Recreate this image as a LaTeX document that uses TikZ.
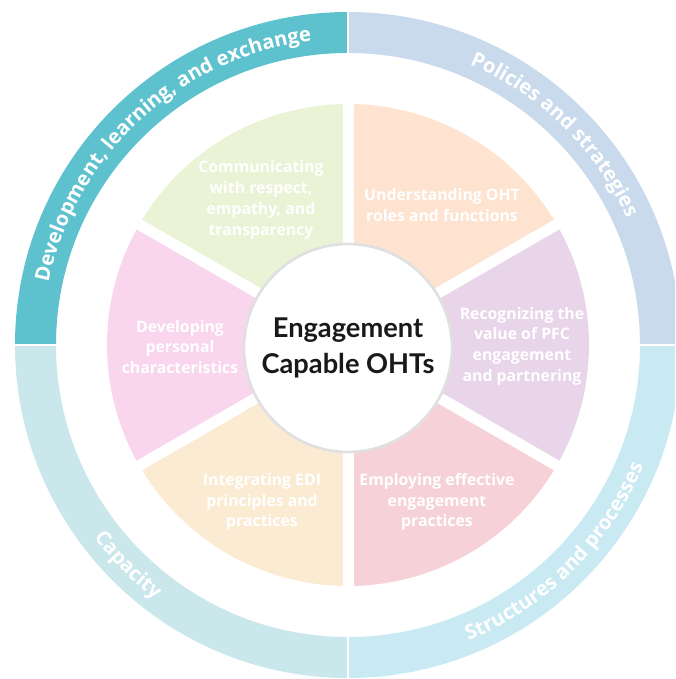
\documentclass[tikz,border=0pt]{standalone}
\usepackage{fontspec}
\usetikzlibrary{decorations.text}
\newfontfamily\ringfont{Open Sans}
\newfontfamily\hubfont{Lato}

\definecolor{ringdev}{HTML}{5DC2CE}
\definecolor{ringpol}{HTML}{C8DAEC}
\definecolor{ringcap}{HTML}{CAE7EB}
\definecolor{ringstr}{HTML}{CAEAF3}
\definecolor{wgreen}{HTML}{EBF3D6}
\definecolor{worange}{HTML}{FDE3D0}
\definecolor{wpurple}{HTML}{E8D5E9}
\definecolor{wred}{HTML}{F6D1D7}
\definecolor{wyellow}{HTML}{FCEBD3}
\definecolor{wpink}{HTML}{F9D5EE}

\newcommand{\ringtext}{\fontsize{11.5}{13}\selectfont\ringfont\bfseries\color{white}}

\tikzstyle{wedgetext} = [align=center, text=white, font=\ringfont\bfseries\fontsize{9}{11.8}\selectfont]
\tikzstyle{hub} = [circle, minimum size=4.16cm, fill=white, draw=black!12, line width=1.5pt]
\tikzstyle{hubtext} = [align=center, text=black!90, font=\hubfont\bfseries\fontsize{15.5}{20}\selectfont]
\tikzstyle{gap} = [white, line width=0.22cm]
\tikzstyle{ringgap} = [white, line width=0.04cm]

\begin{document}
\begin{tikzpicture}
\clip (-6.96,-6.68) rectangle (6.54,6.9);
\useasboundingbox (-6.96,-6.68) rectangle (6.54,6.9);

% outer ring
\fill[ringdev] (90:6.66) arc[start angle=90, end angle=180, radius=6.66] -- (180:5.84) arc[start angle=180, end angle=90, radius=5.84] -- cycle;
\fill[ringpol] (0:6.66) arc[start angle=0, end angle=90, radius=6.66] -- (90:5.84) arc[start angle=90, end angle=0, radius=5.84] -- cycle;
\fill[ringcap] (180:6.66) arc[start angle=180, end angle=270, radius=6.66] -- (270:5.84) arc[start angle=270, end angle=180, radius=5.84] -- cycle;
\fill[ringstr] (270:6.66) arc[start angle=270, end angle=360, radius=6.66] -- (0:5.84) arc[start angle=0, end angle=-90, radius=5.84] -- cycle;
\draw[ringgap] (0:5.8) -- (0:6.7);
\draw[ringgap] (90:5.8) -- (90:6.7);
\draw[ringgap] (180:5.8) -- (180:6.7);
\draw[ringgap] (270:5.8) -- (270:6.7);

% ring labels
\path[decorate, decoration={text along path, text align=center, text={|\ringtext|Development, learning, and exchange}}]
  (185:6.12) arc[start angle=185, end angle=80, radius=6.12];
\path[decorate, decoration={text along path, text align=center, text={|\ringtext|Policies and strategies}}]
  (86:6.12) arc[start angle=86, end angle=5, radius=6.12];
\path[decorate, decoration={text along path, text align=center, text={|\ringtext|Capacity}}]
  (190:6.38) arc[start angle=190, end angle=260, radius=6.38];
\path[decorate, decoration={text along path, text align=center, text={|\ringtext|Structures and processes}}]
  (270:6.38) arc[start angle=270, end angle=360, radius=6.38];

% wedges
\fill[wgreen] (0,0) -- (90:4.82) arc[start angle=90, end angle=150, radius=4.82] -- cycle;
\fill[worange] (0,0) -- (30:4.82) arc[start angle=30, end angle=90, radius=4.82] -- cycle;
\fill[wpurple] (0,0) -- (-30:4.82) arc[start angle=-30, end angle=30, radius=4.82] -- cycle;
\fill[wred] (0,0) -- (-90:4.82) arc[start angle=-90, end angle=-30, radius=4.82] -- cycle;
\fill[wyellow] (0,0) -- (210:4.82) arc[start angle=210, end angle=270, radius=4.82] -- cycle;
\fill[wpink] (0,0) -- (150:4.82) arc[start angle=150, end angle=210, radius=4.82] -- cycle;
\draw[gap] (0,0) -- (30:5);
\draw[gap] (0,0) -- (90:5);
\draw[gap] (0,0) -- (150:5);
\draw[gap] (0,0) -- (210:5);
\draw[gap] (0,0) -- (270:5);
\draw[gap] (0,0) -- (330:5);

% wedge labels
\node (comm) [wedgetext] at (-1.74,2.9) {Communicating\\with respect,\\empathy, and\\transparency};
\node (roles) [wedgetext] at (1.88,2.8) {Understanding OHT\\roles and functions};
\node (value) [wedgetext] at (3.48,-0.02) {Recognizing the\\value of PFC\\engagement\\and partnering};
\node (employ) [wedgetext] at (1.78,-3.14) {Employing effective\\engagement\\practices};
\node (edi) [wedgetext] at (-1.72,-3.14) {Integrating EDI\\principles and\\practices};
\node (personal) [wedgetext] at (-3.36,-0.04) {Developing\\personal\\characteristics};

% hub
\node (hub) [hub] at (0,-0.06) {};
\node (hubtxt) [hubtext] at (hub.center) {Engagement\\Capable OHTs};
\end{tikzpicture}
\end{document}
